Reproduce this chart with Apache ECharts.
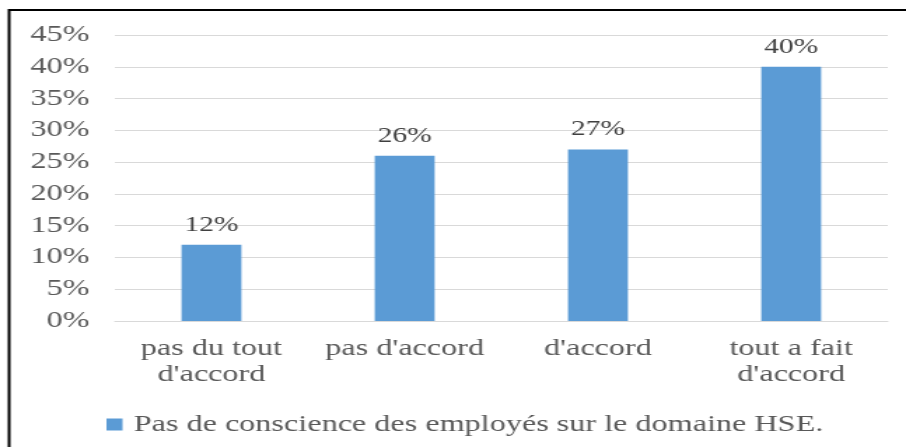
<!DOCTYPE html>
<html>
<head>
<meta charset="utf-8">
<script src="https://cdn.jsdelivr.net/npm/echarts@6/dist/echarts.min.js"></script>
<style>
  html, body { margin: 0; padding: 0; background: #fff; overflow: hidden; }
  /* the source picture is a horizontally stretched Excel chart */
  #chart {
    width: 647px;
    height: 447px;
    transform: scaleX(1.4003);
    transform-origin: 0 0;
  }
</style>
</head>
<body>
<div id="chart"></div>
<script>
const categories = ["pas du tout\nd'accord", "pas d'accord", "d'accord", "tout a fait\nd'accord"];
const seriesName = "Pas de conscience des employés sur le domaine HSE.";
const values = [12, 26, 27, 40];
const yMax = 45;
const yStep = 5;

const font = "'Liberation Serif', 'Times New Roman', serif";
const textColor = "#595959";

const chart = echarts.init(document.getElementById("chart"));

const option = {
  animation: false,
  textStyle: { fontFamily: font },
  graphic: [
    {
      type: "polyline",
      shape: { points: [[647, 10], [6.5, 10], [6.5, 447]] },
      style: { stroke: "#000", lineWidth: 2, fill: null }
    }
  ],
  grid: {
    left: 82,
    right: 13,
    top: 35,
    bottom: 126,
    containLabel: false
  },
  legend: {
    data: [seriesName],
    left: 71,
    top: 408,
    itemWidth: 11.5,
    itemHeight: 12,
    icon: "rect",
    textStyle: {
      fontFamily: font,
      fontSize: 23,
      color: textColor,
      padding: [0, 0, 0, 3]
    }
  },
  xAxis: {
    type: "category",
    data: categories,
    axisTick: { show: false },
    axisLine: { lineStyle: { color: "#d9d9d9", width: 1 } },
    axisLabel: {
      fontFamily: font,
      fontSize: 23,
      lineHeight: 26,
      color: textColor,
      margin: 15,
      interval: 0
    }
  },
  yAxis: {
    type: "value",
    min: 0,
    max: yMax,
    interval: yStep,
    axisLine: { show: false },
    axisTick: { show: false },
    splitLine: { lineStyle: { color: "#d9d9d9", width: 1 } },
    axisLabel: {
      fontFamily: font,
      fontSize: 23,
      color: textColor,
      margin: 18,
      formatter: "{value}%"
    }
  },
  series: [
    {
      name: seriesName,
      type: "bar",
      data: values,
      barWidth: "31%",
      itemStyle: { color: "#5b9bd5" },
      label: {
        show: true,
        position: "top",
        distance: 9,
        fontFamily: font,
        fontSize: 21,
        color: "#404040",
        formatter: "{c}%"
      }
    }
  ]
};

chart.setOption(option);
</script>
</body>
</html>
